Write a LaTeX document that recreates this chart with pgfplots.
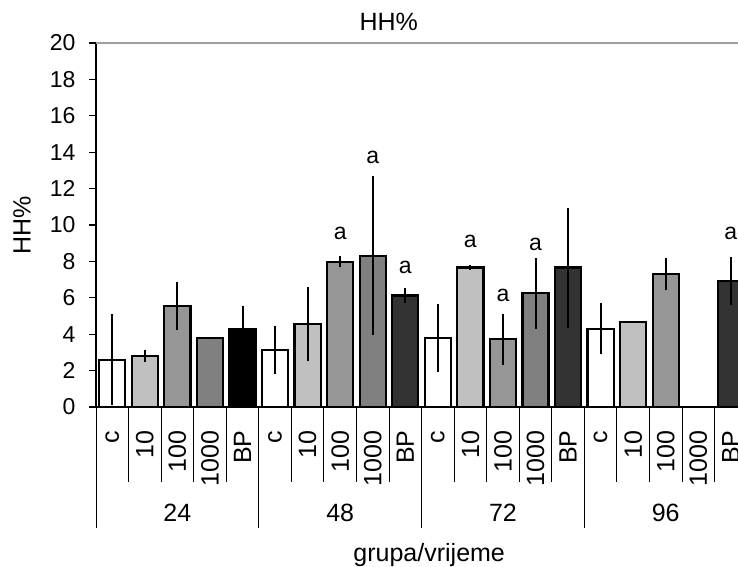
\documentclass[border=0pt]{standalone}
\usepackage{fontspec}
\setmainfont{Liberation Sans}
\usepackage{pgfplots}
\pgfplotsset{compat=1.18}
\definecolor{g10}{HTML}{C0C0C0}
\definecolor{g100}{HTML}{969696}
\definecolor{g1000}{HTML}{808080}
\definecolor{gbp}{HTML}{333333}
\pgfplotsset{mybar/.style={draw=black, line width=2.2bp, bar shift=0pt,
  error bars/.cd, y dir=both, y explicit, error mark=none,
  error bar style={line width=2bp, black}}}
\newcommand{\lf}{\fontsize{23bp}{26bp}\selectfont}
\newcommand{\xf}{\fontsize{25bp}{28bp}\selectfont}
\newcommand{\gf}{\fontsize{25bp}{28bp}\selectfont}
\begin{document}
\begin{tikzpicture}
\begin{axis}[
  at={(96bp,160bp)}, anchor=south west,
  scale only axis, width=642bp, height=364bp,
  xmin=-0.5, xmax=19.22, ymin=0, ymax=20,
  clip=false,
  ybar, bar width=0.8,
  axis x line*=bottom, axis y line*=left,
  axis line style={black, line width=1.2bp},
  ytick={0,2,...,20},
  tick align=outside,
  ytick style={black, line width=1.2bp},
  major tick length=7bp,
  yticklabel style={font=\lf, xshift=-10bp},
  /pgf/number format/assume math mode=true,
  xtick={0,...,19},
  xticklabels={c,10,100,1000,BP,c,10,100,1000,BP,c,10,100,1000,BP,c,10,100,1000,BP},
  xtick style={draw=none},
  xticklabel shift=13bp,
  xticklabel style={rotate=90, anchor=east, font=\xf},
  title={HH\%},
  title style={at={(axis description cs:0.456,1.041)}, anchor=center, font=\gf},
  xlabel={grupa/vrijeme},
  xlabel style={at={(axis description cs:0.519,-0.4066)}, anchor=center, font=\gf},
]
\addplot[fill=white, mybar] coordinates {(0,2.6) +- (0,2.5) (5,3.13) +- (0,1.3) (10,3.77) +- (0,1.87) (15,4.29) +- (0,1.4)};
\addplot[fill=g10, mybar] coordinates {(1,2.8) +- (0,0.35) (6,4.56) +- (0,2.05) (11,7.66) +- (0,0.15) (16,4.69) +- (0,0)};
\addplot[fill=g100, mybar] coordinates {(2,5.55) +- (0,1.3) (7,7.97) +- (0,0.3) (12,3.72) +- (0,1.4) (17,7.31) +- (0,0.9)};
\addplot[fill=g1000, mybar] coordinates {(3,3.77) +- (0,0.05) (8,8.3) +- (0,4.37) (13,6.25) +- (0,1.95)};
\addplot[fill=black, mybar] coordinates {(4,4.3) +- (0,1.27)};
\addplot[fill=gbp, mybar] coordinates {(9,6.13) +- (0,0.43) (14,7.66) +- (0,3.3) (19,6.92) +- (0,1.34)};
\draw[color=gray!75, line width=1.5bp] (rel axis cs:0,1) -- (rel axis cs:1,1);
\pgfplotsinvokeforeach{0.5,1.5,2.5,3.5,5.5,6.5,7.5,8.5,10.5,11.5,12.5,13.5,15.5,16.5,17.5,18.5}{\draw[line width=0.8bp] (axis cs:#1,0) -- ++(0pt,-75bp);}
\pgfplotsinvokeforeach{-0.5,4.5,9.5,14.5}{\draw[line width=0.8bp] (axis cs:#1,0) -- ++(0pt,-121bp);}
\node[font=\gf, rotate=90] at (axis description cs:-0.1153,0.5) {HH\%};
\node[font=\gf] at (axis cs:2,0) [yshift=-106bp] {24};
\node[font=\gf] at (axis cs:7,0) [yshift=-106bp] {48};
\node[font=\gf] at (axis cs:12,0) [yshift=-106bp] {72};
\node[font=\gf] at (axis cs:17,0) [yshift=-106bp] {96};
\node[font=\lf] at (axis cs:7,9.56) {a};
\node[font=\lf] at (axis cs:8,13.7) {a};
\node[font=\lf] at (axis cs:9,7.66) {a};
\node[font=\lf] at (axis cs:11,9.12) {a};
\node[font=\lf] at (axis cs:12,6.15) {a};
\node[font=\lf] at (axis cs:13,8.94) {a};
\node[font=\lf] at (axis cs:19,9.54) {a};
\end{axis}
\pgfresetboundingbox
\useasboundingbox (0,0) rectangle (738bp,567bp);
\end{tikzpicture}
\end{document}
